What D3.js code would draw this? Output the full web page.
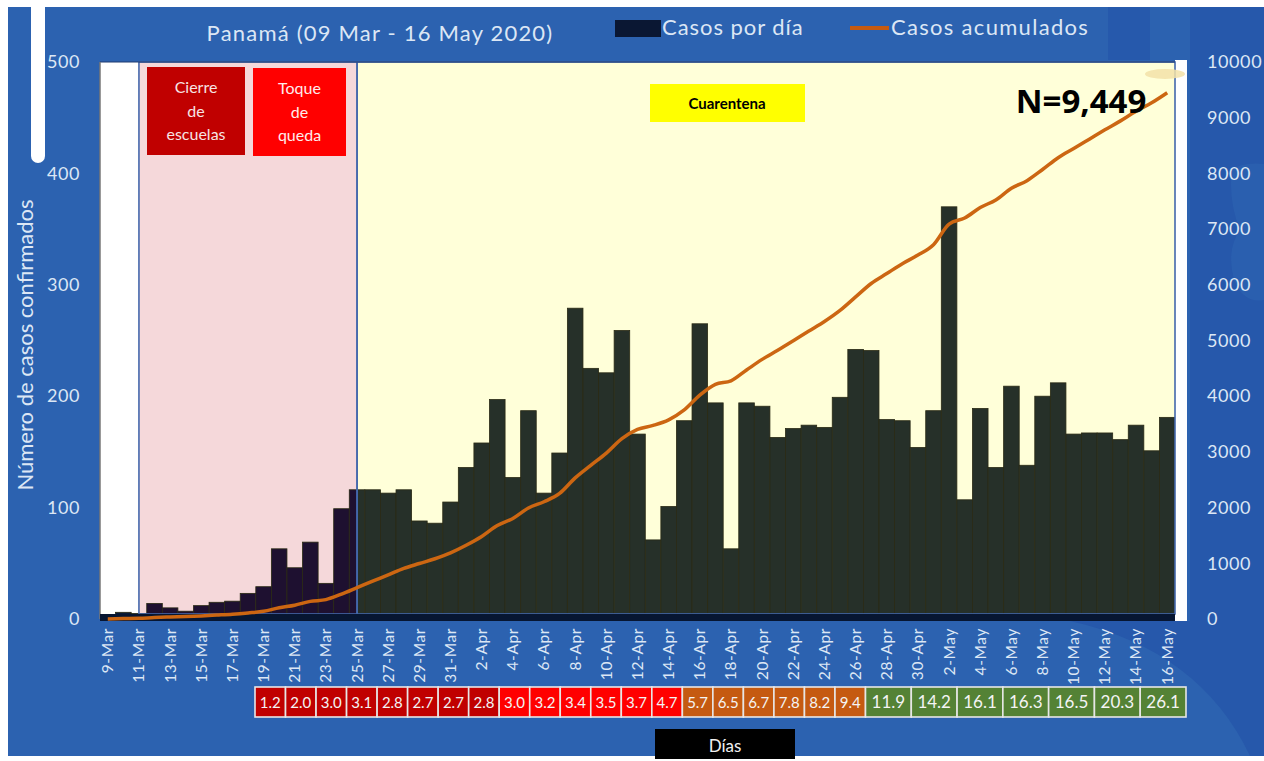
<!DOCTYPE html>
<html><head><meta charset="utf-8">
<script src="https://cdn.jsdelivr.net/npm/d3@7"></script>
<style>
body{margin:0;background:#fff;}
svg{display:block;}
text{font-family:Lato,"Open Sans",sans-serif;}
</style>
</head><body>
<svg id="chart" width="1264" height="761"></svg>
<script>
// ---------- DATA ----------
const days = ["9-Mar","10-Mar","11-Mar","12-Mar","13-Mar","14-Mar","15-Mar","16-Mar","17-Mar","18-Mar",
"19-Mar","20-Mar","21-Mar","22-Mar","23-Mar","24-Mar","25-Mar","26-Mar","27-Mar","28-Mar","29-Mar","30-Mar","31-Mar",
"1-Apr","2-Apr","3-Apr","4-Apr","5-Apr","6-Apr","7-Apr","8-Apr","9-Apr","10-Apr","11-Apr","12-Apr","13-Apr","14-Apr",
"15-Apr","16-Apr","17-Apr","18-Apr","19-Apr","20-Apr","21-Apr","22-Apr","23-Apr","24-Apr","25-Apr","26-Apr","27-Apr",
"28-Apr","29-Apr","30-Apr","1-May","2-May","3-May","4-May","5-May","6-May","7-May","8-May","9-May","10-May","11-May",
"12-May","13-May","14-May","15-May","16-May"];

const dailyCases = [1,6,5,14,10,7,12,15,16,23,
29,63,46,69,32,99,116,116,113,116,88,86,105,
136,158,197,127,187,113,149,279,225,221,259,166,71,101,
178,265,194,63,194,191,163,171,174,172,199,242,241,
179,178,154,187,370,107,189,136,209,138,200,212,166,167,
167,161,174,151,181];

const cumulativeCases = [1,7,12,26,36,43,55,70,86,109,
138,201,247,316,348,447,563,679,792,908,996,1082,1187,
1323,1481,1678,1805,1992,2105,2254,2533,2758,2979,3238,3404,3475,3576,
3754,4019,4213,4276,4470,4661,4824,4995,5169,5341,5540,5782,6023,
6202,6380,6534,6721,7091,7198,7387,7523,7732,7870,8070,8282,8448,8615,
8782,8943,9117,9268,9449];

const leftTicks = [0,100,200,300,400,500];
const rightTicks = [0,1000,2000,3000,4000,5000,6000,7000,8000,9000,10000];

const doublingValues = ["1.2","2.0","3.0","3.1","2.8","2.7","2.7","2.8",
"3.0","3.2","3.4","3.5","3.7","4.7",
"5.7","6.5","6.7","7.8","8.2","9.4",
"11.9","14.2","16.1","16.3","16.5","20.3","26.1"];
const doublingPhase = ["rojoOscuro","rojoOscuro","rojoOscuro","rojoOscuro","rojoOscuro","rojoOscuro","rojoOscuro","rojoOscuro",
"rojo","rojo","rojo","rojo","rojo","rojo",
"naranja","naranja","naranja","naranja","naranja","naranja",
"verde","verde","verde","verde","verde","verde","verde"];

const subtitle = "Panamá (09 Mar - 16 May 2020)";
const legendLabels = ["Casos por día","Casos acumulados"];
const yTitle = "Número de casos confirmados";
const totalLabel = "N=9,449";
const xTitle = "Días";
const periodStart = ["11-Mar","25-Mar"];
const periodEnd = ["25-Mar","16-May"];

// ---------- LAYOUT ----------
const svg = d3.select("#chart");
const P = {l:100, r:1175, t:62, b:619};
const phaseColor = {rojoOscuro:"#c00000", rojo:"#ff0000", naranja:"#c55a11", verde:"#548235"};
const phaseUnits = {rojoOscuro:2, rojo:2, naranja:2, verde:3};

const x = d3.scaleBand().domain(days).range([P.l,P.r]).padding(0);
const bw = x.bandwidth();
const yL = d3.scaleLinear().domain([0,500]).range([P.b,P.t]);
const yR = d3.scaleLinear().domain([0,10000]).range([P.b,P.t]);
const cx = d => x(d)+bw/2;

// background
svg.append("rect").attr("x",0).attr("y",0).attr("width",1264).attr("height",761).attr("fill","#fff");
svg.append("rect").attr("x",8).attr("y",7).attr("width",1256).attr("height",749).attr("fill","#2c62b0");
// decorative darker blue
svg.append("rect").attr("x",1108).attr("y",7).attr("width",42).attr("height",53).attr("fill","#2659ac");
svg.append("path").attr("d","M1190,7 L1264,7 L1264,756 L1250,756 Q1200,650 1070,621 L1190,621 Z").attr("fill","#2658ab");
svg.append("path").attr("d","M1232,170 q10,-8 32,-6 L1264,300 q-20,4 -30,-20 q-8,-30 6,-50 q-12,-30 -8,-60 Z").attr("fill","#2d64b3").attr("opacity",0.6);
svg.append("rect").attr("x",31).attr("y",-20).attr("width",14).attr("height",183).attr("rx",7).attr("fill","#fff");

// plot backgrounds
svg.append("rect").attr("x",P.l).attr("y",P.t).attr("width",P.r-P.l).attr("height",P.b-P.t).attr("fill","#ffffff");
const xs0 = cx(periodStart[0]), xs1 = cx(periodEnd[0]), xs2 = cx(periodEnd[1]);
svg.append("rect").attr("x",xs0).attr("y",P.t).attr("width",xs1-xs0).attr("height",P.b-P.t).attr("fill","#f5d8da");
svg.append("rect").attr("x",xs1).attr("y",P.t).attr("width",P.r-xs1).attr("height",P.b-P.t).attr("fill","#ffffd9");
// white strip right of plot
svg.append("rect").attr("x",P.r).attr("y",P.t-2).attr("width",12).attr("height",P.b-P.t+4).attr("fill","#ffffff");

// clip regions for bar colour
const defs = svg.append("defs");
const regions = [
  {id:"cW", x0:P.l, x1:xs0, fill:"#0b1a36"},
  {id:"cP", x0:xs0, x1:xs1, fill:"#1e1030"},
  {id:"cY", x0:xs1, x1:P.r, fill:"#263029"}
];
regions.forEach(r=>{
  defs.append("clipPath").attr("id",r.id).append("rect")
    .attr("x",r.x0).attr("y",0).attr("width",r.x1-r.x0).attr("height",761);
  svg.append("g").attr("clip-path",`url(#${r.id})`)
    .selectAll("rect").data(dailyCases).join("rect")
    .attr("x",(d,i)=>x(days[i])).attr("width",bw)
    .attr("y",d=>yL(d)).attr("height",d=>P.b-yL(d))
    .attr("fill",r.fill).attr("stroke","#2a2a14").attr("stroke-width",0.8);
});

// region outlines
svg.append("rect").attr("x",xs0).attr("y",P.t).attr("width",xs1-xs0).attr("height",P.b-P.t-5)
  .attr("fill","none").attr("stroke","#4468ac").attr("stroke-width",1.6);
svg.append("rect").attr("x",xs1).attr("y",P.t).attr("width",P.r-xs1).attr("height",P.b-P.t-5)
  .attr("fill","none").attr("stroke","#4468ac").attr("stroke-width",1.6);
// plot frame
svg.append("line").attr("x1",P.l).attr("x2",P.r).attr("y1",P.t).attr("y2",P.t).attr("stroke","#1f3a70").attr("stroke-width",1.2);
svg.append("line").attr("x1",P.l).attr("x2",P.l).attr("y1",P.t).attr("y2",P.b).attr("stroke","#777").attr("stroke-width",1.5);
// dark x-axis strip
svg.append("rect").attr("x",P.l).attr("y",P.b-5).attr("width",P.r-P.l).attr("height",7).attr("fill","#071632");

// cumulative line
const line = d3.line().x((d,i)=>cx(days[i])).y(d=>yR(d)).curve(d3.curveMonotoneX);
svg.append("path").datum(cumulativeCases).attr("d",line)
  .attr("fill","none").attr("stroke","#cc6612").attr("stroke-width",3.5).attr("stroke-linejoin","round");

// scribble top-right
svg.append("ellipse").attr("cx",1165).attr("cy",74).attr("rx",20).attr("ry",5).attr("fill","#f3e2a8").attr("opacity",0.85);

// axes
const axL = d3.axisLeft(yL).tickValues(leftTicks).tickFormat(d3.format("d")).tickSize(0).tickPadding(0);
const gL = svg.append("g").attr("transform","translate(80,0)").call(axL);
const axR = d3.axisRight(yR).tickValues(rightTicks).tickFormat(d3.format("d")).tickSize(0).tickPadding(0);
const gR = svg.append("g").attr("transform","translate(1207,0)").call(axR);
[gL,gR].forEach(g=>{
  g.select(".domain").remove();
  g.selectAll("text").attr("fill","#dce7f5").style("font-size","18px").style("font-family","Lato, sans-serif").attr("letter-spacing","0.6px");
});
const axB = d3.axisBottom(x).tickValues(days.filter((d,i)=>i%2===0)).tickSize(0).tickPadding(0);
const gB = svg.append("g").attr("transform",`translate(0,${P.b+9})`).call(axB);
gB.select(".domain").remove();
gB.selectAll("text").attr("fill","#dce7f5").style("font-size","15.5px").style("font-family","Lato, sans-serif")
  .attr("letter-spacing","0.6px")
  .attr("transform","rotate(-90)").attr("text-anchor","end").attr("dy","0.35em").attr("x",0).attr("y",0);

// y title
svg.append("text").attr("transform","translate(33,345) rotate(-90)").attr("text-anchor","middle")
  .attr("fill","#dce7f5").style("font-size","22px").text(yTitle);

// subtitle + legend
svg.append("text").attr("x",380).attr("y",41).attr("text-anchor","middle").attr("fill","#dce7f5")
  .style("font-size","22px").attr("letter-spacing","1.2px").text(subtitle);
svg.append("rect").attr("x",615).attr("y",20).attr("width",46).attr("height",17).attr("fill","#0a1733");
svg.append("text").attr("x",662).attr("y",35).attr("fill","#dce7f5").style("font-size","22px").attr("letter-spacing","0.95px").text(legendLabels[0]);
svg.append("line").attr("x1",850).attr("x2",889).attr("y1",28).attr("y2",28).attr("stroke","#c55a11").attr("stroke-width",4);
svg.append("text").attr("x",891).attr("y",35).attr("fill","#dce7f5").style("font-size","22px").attr("letter-spacing","1.3px").text(legendLabels[1]);

// annotation boxes
function noteBox(x0,y0,w,h,fill,lines,color,fs,weight){
  svg.append("rect").attr("x",x0).attr("y",y0).attr("width",w).attr("height",h).attr("fill",fill);
  const lh = h/(lines.length+0.7);
  lines.forEach((t,i)=>{
    svg.append("text").attr("x",x0+w/2).attr("y",y0+lh*(i+0.85)+fs*0.35).attr("text-anchor","middle")
      .attr("fill",color).style("font-size",fs+"px").style("font-weight",weight||"normal").text(t);
  });
}
noteBox(147,67,98,88,"#c00000",["Cierre","de","escuelas"],"#f6e4e4",16);
noteBox(253,68,93,88,"#ff0000",["Toque","de","queda"],"#ffecec",16);
svg.append("rect").attr("x",650).attr("y",84).attr("width",155).attr("height",38).attr("fill","#ffff00");
svg.append("text").attr("x",727).attr("y",109).attr("text-anchor","middle").attr("fill","#000")
  .style("font-size","15px").style("font-weight","bold").text("Cuarentena");

// N label
svg.append("text").attr("x",1081).attr("y",113).attr("text-anchor","middle").attr("fill","#000")
  .style("font-size","33px").style("font-weight","bold").style("font-family","'Open Sans', sans-serif").text(totalLabel);

// doubling-time boxes
const units = doublingPhase.map(p=>phaseUnits[p]);
const starts = units.map((u,i)=>d3.sum(units.slice(0,i)));
const bx = d3.scaleLinear().domain([0,d3.sum(units)]).range([255,1186]);
const gD = svg.append("g");
doublingValues.forEach((v,i)=>{
  const x0 = bx(starts[i]), x1 = bx(starts[i]+units[i]);
  gD.append("rect").attr("x",x0).attr("y",687).attr("width",x1-x0).attr("height",30)
    .attr("fill",phaseColor[doublingPhase[i]]).attr("stroke","#e6e6e6").attr("stroke-width",1.6);
  gD.append("text").attr("x",(x0+x1)/2).attr("y",708).attr("text-anchor","middle")
    .attr("fill","#f4f4f4").style("font-size",doublingPhase[i]==="verde"?"17px":"15px").text(v);
});

// Días box
svg.append("rect").attr("x",655).attr("y",729).attr("width",140).attr("height",30).attr("fill","#000");
svg.append("text").attr("x",725).attr("y",752).attr("text-anchor","middle").attr("fill","#f0f0f0")
  .style("font-size","17px").text(xTitle);
</script>
</body></html>
